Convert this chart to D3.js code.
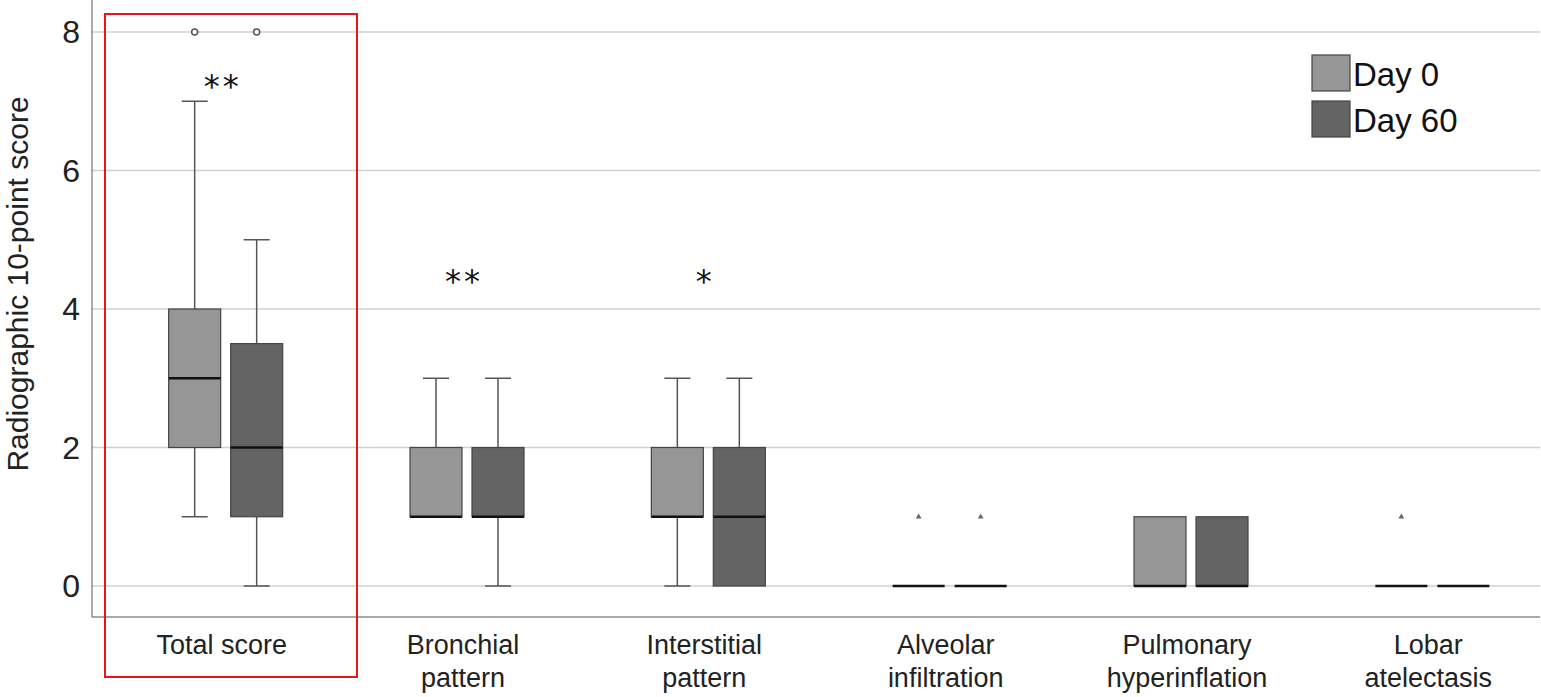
<!DOCTYPE html>
<html><head><meta charset="utf-8">
<script src="https://cdn.jsdelivr.net/npm/d3@7"></script>
<style>body{margin:0;background:#fff}</style>
</head><body>
<svg id="chart" width="1541" height="697"></svg>
<script>
const categories = [["Total score"], ["Bronchial", "pattern"], ["Interstitial", "pattern"], ["Alveolar", "infiltration"], ["Pulmonary", "hyperinflation"], ["Lobar", "atelectasis"]];
const groups = ["Day 0", "Day 60"];
const colors = ["#969696", "#646464"];
// [min, q1, median, q3, max]
const day0 = [[1, 2, 3, 4, 7], [1, 1, 1, 2, 3], [0, 1, 1, 2, 3], [0, 0, 0, 0, 0], [0, 0, 0, 1, 1], [0, 0, 0, 0, 0]];
const day60 = [[0, 1, 2, 3.5, 5], [0, 1, 1, 2, 3], [0, 0, 1, 2, 3], [0, 0, 0, 0, 0], [0, 0, 0, 1, 1], [0, 0, 0, 0, 0]];
const outliers0 = [[8, "o"], null, null, [1, "t"], null, [1, "t"]];
const outliers60 = [[8, "o"], null, null, [1, "t"], null, null];
const stars = ["**", "**", "*", "", "", ""];
const yTicks = [0, 2, 4, 6, 8];

const svg = d3.select("#chart");
const x = d3.scaleBand().domain(d3.range(6)).range([105, 1553]);
const y = d3.scaleLinear().domain([0, 8]).range([586, 32]);
const bw = 52, off = 31;
const font = "Liberation Sans, Arial";

svg.append("g").selectAll("line").data(yTicks).join("line")
  .attr("x1", 92).attr("x2", 1540).attr("y1", d => y(d)).attr("y2", d => y(d))
  .attr("stroke", "#d0d0d0").attr("stroke-width", 1.5);
svg.append("line").attr("x1", 92).attr("x2", 92).attr("y1", 0).attr("y2", 617).attr("stroke", "#555");
svg.append("line").attr("x1", 92).attr("x2", 1540).attr("y1", 617).attr("y2", 617).attr("stroke", "#555");
svg.append("g").selectAll("text").data(yTicks).join("text")
  .attr("x", 80).attr("y", d => y(d) + 11).attr("text-anchor", "end")
  .attr("font-family", font).attr("font-size", 32).attr("fill", "#222").text(d => d);
svg.append("text").attr("transform", "translate(28,284) rotate(-90)").attr("text-anchor", "middle")
  .attr("font-family", font).attr("font-size", 30).attr("fill", "#222").text("Radiographic 10-point score");

[day0, day60].forEach((series, gi) => {
  const outs = gi ? outliers60 : outliers0;
  series.forEach((s, i) => {
    const cx = x(i) + x.bandwidth() / 2 + (gi ? off : -off);
    const g = svg.append("g");
    if (s[0] < s[1]) g.append("line").attr("x1", cx).attr("x2", cx).attr("y1", y(s[0])).attr("y2", y(s[1])).attr("stroke", "#555").attr("stroke-width", 1.5);
    if (s[4] > s[3]) g.append("line").attr("x1", cx).attr("x2", cx).attr("y1", y(s[3])).attr("y2", y(s[4])).attr("stroke", "#555").attr("stroke-width", 1.5);
    [s[0], s[4]].forEach(v => {
      if (v !== s[1] && v !== s[3]) g.append("line").attr("x1", cx - 13).attr("x2", cx + 13).attr("y1", y(v)).attr("y2", y(v)).attr("stroke", "#555").attr("stroke-width", 1.5);
    });
    g.append("rect").attr("x", cx - bw / 2).attr("width", bw).attr("y", y(s[3])).attr("height", Math.max(0, y(s[1]) - y(s[3])))
      .attr("fill", colors[gi]).attr("stroke", "#444").attr("stroke-width", 1.2);
    g.append("line").attr("x1", cx - bw / 2).attr("x2", cx + bw / 2).attr("y1", y(s[2])).attr("y2", y(s[2])).attr("stroke", "#111").attr("stroke-width", 2.5);
    const o = outs[i];
    if (o) {
      if (o[1] === "o") g.append("circle").attr("cx", cx).attr("cy", y(o[0])).attr("r", 3).attr("fill", "#fff").attr("stroke", "#555").attr("stroke-width", 1.5);
      else g.append("path").attr("d", d3.symbol(d3.symbolTriangle, 14)()).attr("transform", `translate(${cx},${y(o[0])})`).attr("fill", "#666");
    }
  });
});

const starY = [80, 275, 275];
stars.forEach((s, i) => {
  if (!s) return;
  svg.append("text").attr("x", x(i) + x.bandwidth() / 2 - 3).attr("y", starY[i] + 17).attr("text-anchor", "middle")
    .attr("font-family", "DejaVu Sans").attr("font-size", 32).attr("letter-spacing", 3).attr("fill", "#111").text(s);
});

categories.forEach((lines, i) => {
  const cx = x(i) + x.bandwidth() / 2 - 4;
  const t = svg.append("text").attr("x", cx).attr("y", 654).attr("text-anchor", "middle")
    .attr("font-family", font).attr("font-size", 27).attr("fill", "#222");
  lines.forEach((l, j) => t.append("tspan").attr("x", cx).attr("dy", j ? 33 : 0).text(l));
});

groups.forEach((gname, i) => {
  svg.append("rect").attr("x", 1312).attr("y", 55 + i * 46).attr("width", 38).attr("height", 36)
    .attr("fill", colors[i]).attr("stroke", "#444").attr("stroke-width", 1.2);
  svg.append("text").attr("x", 1353).attr("y", 86 + i * 46).attr("font-family", font)
    .attr("font-size", 33).attr("fill", "#111").text(gname);
});

svg.append("rect").attr("x", 105).attr("y", 14).attr("width", 252).attr("height", 663)
  .attr("fill", "none").attr("stroke", "#e8141c").attr("stroke-width", 2);
</script>
</body></html>
